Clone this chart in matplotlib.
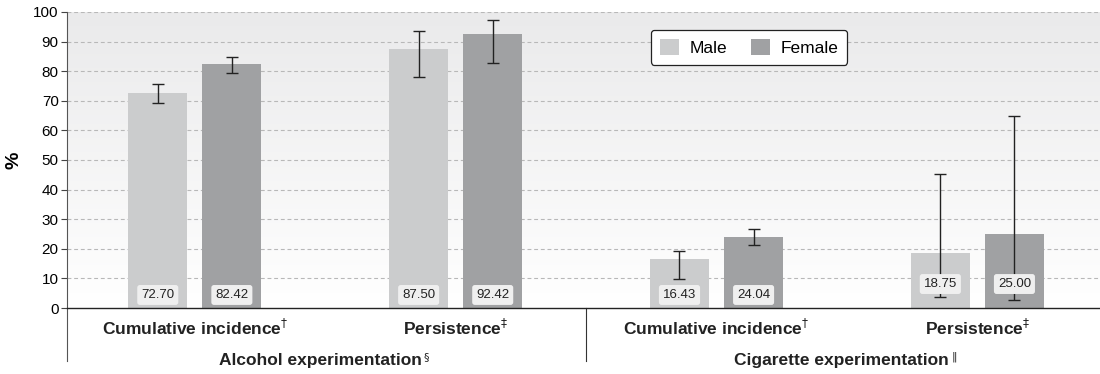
import matplotlib
matplotlib.use("Agg")
import matplotlib.pyplot as plt
import numpy as np
from matplotlib.patches import Patch
import matplotlib.transforms as mtransforms
from matplotlib.colors import LinearSegmentedColormap

plt.rcParams['font.family'] = ['Liberation Sans', 'DejaVu Sans']
plt.rcParams['mathtext.fontset'] = 'dejavusans'

categories = ["Cumulative incidence$^{\\dagger}$", "Persistence$^{\\ddagger}$",
              "Cumulative incidence$^{\\dagger}$", "Persistence$^{\\ddagger}$"]
groups = ["Alcohol experimentation", "Cigarette experimentation"]
group_marks = ["\u00a7", "\u2016"]
male = [72.70, 87.50, 16.43, 18.75]
female = [82.42, 92.42, 24.04, 25.00]
male_lo = [69.3, 78.1, 9.7, 3.7]
male_hi = [75.7, 93.7, 19.1, 45.4]
female_lo = [79.5, 82.9, 21.4, 2.8]
female_hi = [84.8, 97.2, 26.8, 65.0]
label_y = [4.4, 4.4, 4.4, 8.1]
yticks = list(range(0, 101, 10))

male_color = "#cbcccd"
female_color = "#a0a1a3"

fig = plt.figure(figsize=(11, 3.74), dpi=100)
ax = fig.add_axes([67/1100, 1-308/374, 1-67/1100, (308-12)/374])

x = np.arange(len(male))
w = 0.226
off = 0.142
xlim = (-0.49, 3.47)
ax.set_xlim(*xlim)
ax.set_ylim(0, 100)

# gradient background
grad = np.linspace(0, 1, 256).reshape(-1, 1)
cmap = LinearSegmentedColormap.from_list("bg", ["#ffffff", "#eaeaeb"])
ax.imshow(grad, extent=[xlim[0], xlim[1], 0, 100], origin='lower', aspect='auto',
          cmap=cmap, zorder=0)

for yv in yticks[1:]:
    ax.axhline(yv, color="#b8b8b8", lw=0.8, ls=(0, (3.5, 2.5)), zorder=1)

ax.bar(x - off, male, width=w, color=male_color, zorder=2, label="Male")
ax.bar(x + off, female, width=w, color=female_color, zorder=2, label="Female")

m = np.array(male); f = np.array(female)
ax.errorbar(x - off, m, yerr=[m - np.array(male_lo), np.array(male_hi) - m],
            fmt='none', ecolor="#222222", elinewidth=1.0, capsize=4.5, capthick=1.0, zorder=4)
ax.errorbar(x + off, f, yerr=[f - np.array(female_lo), np.array(female_hi) - f],
            fmt='none', ecolor="#222222", elinewidth=1.0, capsize=4.5, capthick=1.0, zorder=4)

for i in range(len(male)):
    for xx, v in ((x[i] - off, male[i]), (x[i] + off, female[i])):
        ax.text(xx, label_y[i], f"{v:.2f}", ha='center', va='center', fontsize=9.5,
                color="#222222", zorder=5,
                bbox=dict(boxstyle="round,pad=0.3,rounding_size=0.2", fc="#efefef", ec="none"))

ax.set_yticks(yticks)
ax.tick_params(axis='y', labelsize=11, length=4, width=0.8, color="#444444", pad=2)
ax.set_xticks([])
for s in ['top', 'right']:
    ax.spines[s].set_visible(False)
ax.spines['left'].set_color("#555555")
ax.spines['bottom'].set_color("#222222")
ax.spines['bottom'].set_linewidth(1.0)
ax.set_ylabel("%", fontsize=14, fontweight='bold', labelpad=8)

trans = mtransforms.blended_transform_factory(ax.transData, ax.transAxes)
for i, c in enumerate(categories):
    ax.text(x[i], -0.068, c, transform=trans, ha='center', va='center',
            fontsize=12.5, fontweight='bold', color="#222222")
for j, g in enumerate(groups):
    t = ax.text(0.5 + 2 * j - 0.02, -0.178, g, transform=trans, ha='center', va='center',
                fontsize=12.5, fontweight='bold', color="#222222")
    ax.annotate(group_marks[j], xy=(1, 0.75), xycoords=t, xytext=(1.5, 0),
                textcoords='offset points', ha='left', va='center', fontsize=8,
                color="#222222", family=['DejaVu Sans'])

# spine extension and separator
ax.plot([xlim[0], xlim[0]], [0, -0.18], transform=trans, color="#555555", lw=0.8, clip_on=False)
ax.plot([1.5, 1.5], [0, -0.18], transform=trans, color="#333333", lw=0.8, clip_on=False)

handles = [Patch(facecolor=male_color, label="Male"), Patch(facecolor=female_color, label="Female")]
leg = ax.legend(handles=handles, loc='upper left', bbox_to_anchor=((651-67)/1033, 1-(30-12)/296),
                ncol=2, fontsize=12.5, frameon=True, fancybox=True, edgecolor="#222222",
                handlelength=1.1, handleheight=1.1, columnspacing=1.4, handletextpad=0.6,
                borderpad=0.5, borderaxespad=0)
leg.get_frame().set_linewidth(0.9)
leg.get_frame().set_facecolor("white")
leg.get_frame().set_alpha(1)

fig.savefig("out.png", dpi=100)
